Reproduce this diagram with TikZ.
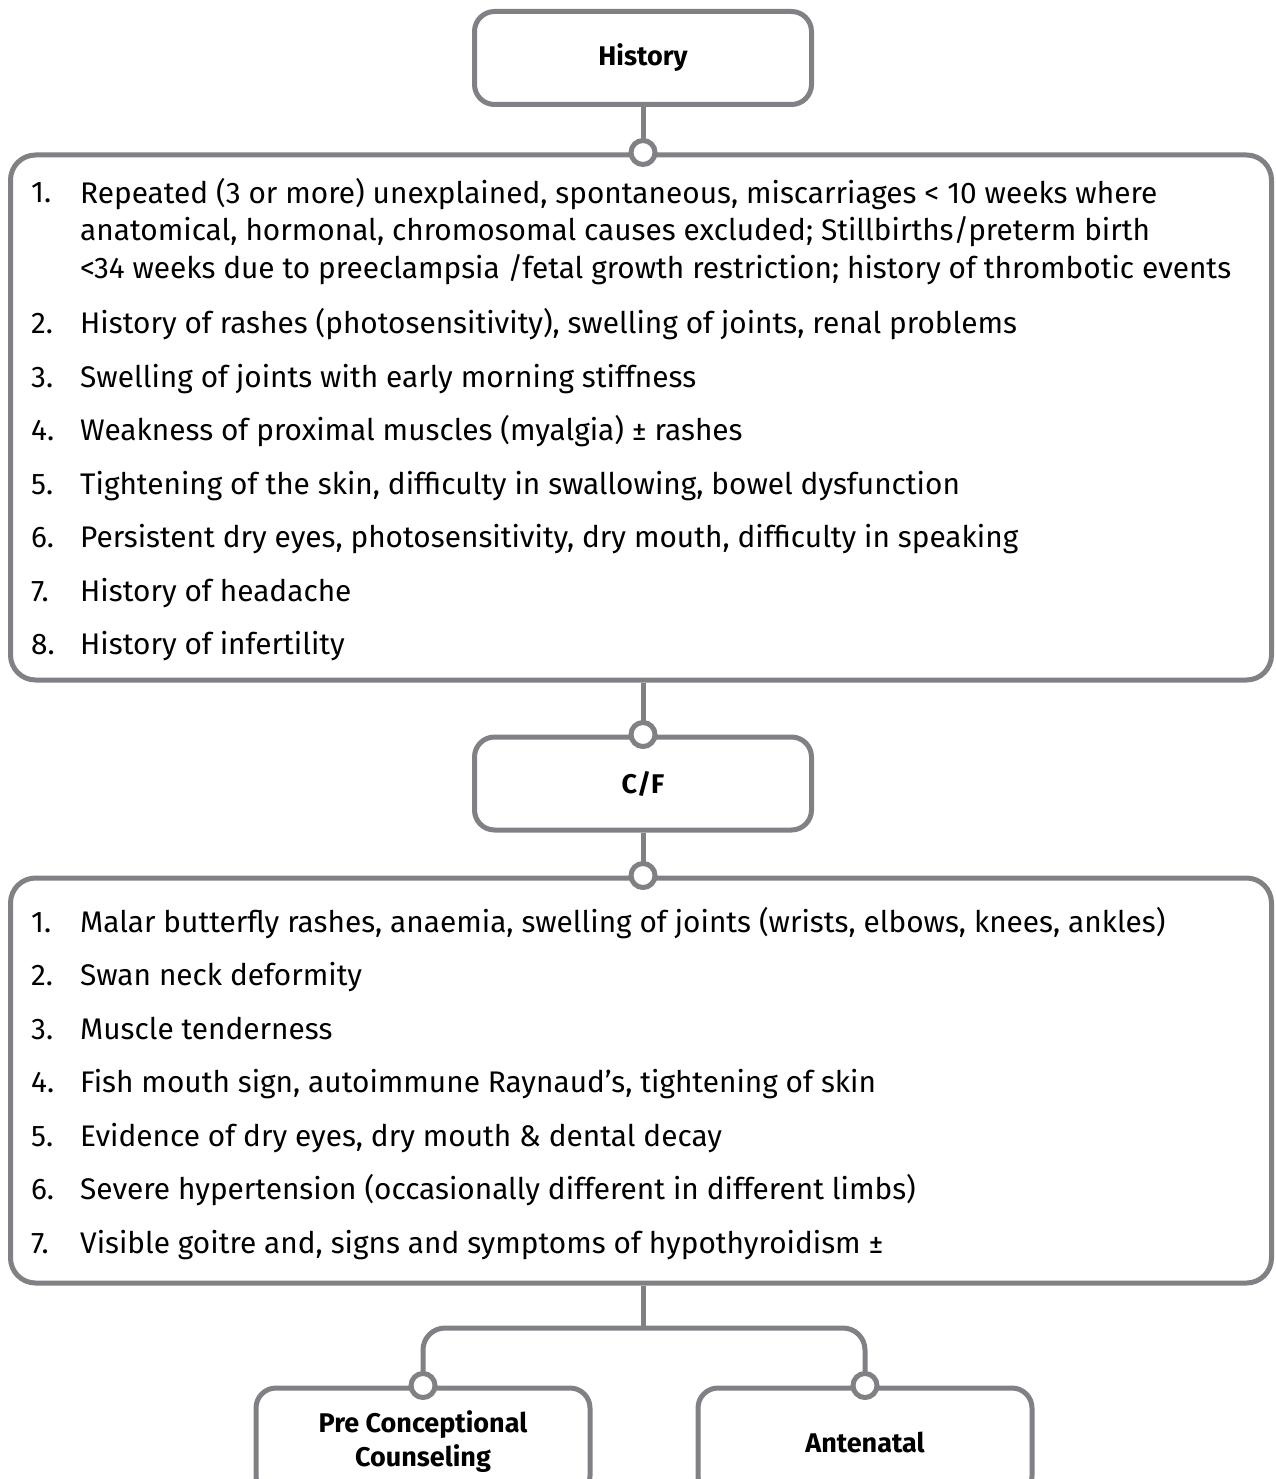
\documentclass[tikz,border=0pt]{standalone}
\usepackage{fontspec}
\setmainfont{Fira Sans}
\usetikzlibrary{positioning}

\definecolor{framegray}{RGB}{128,129,133}
\newcommand{\bodysize}{\fontsize{29.8pt}{37.5pt}\selectfont}
\newcommand{\headsize}{\fontsize{27pt}{34pt}\selectfont}

\tikzset{
	frame/.style={draw=framegray, line width=5pt, fill=white},
	titlebox/.style={frame, rounded corners=20pt, minimum width=337pt, minimum height=93pt,
		inner sep=0pt, align=center, font=\headsize\bfseries},
	listbox/.style={frame, rounded corners=25pt, minimum width=1261pt, inner sep=0pt},
	joint/.style={circle, draw=framegray, line width=5pt, fill=white, minimum size=24pt, inner sep=0pt},
	link/.style={draw=framegray, line width=5pt},
	num/.style={anchor=base west, inner sep=0pt},
	item/.style={anchor=base west, inner sep=0pt, align=left}
}

\begin{document}
\begin{tikzpicture}[x=1pt, y=-1pt, font=\bodysize]

	\useasboundingbox (0,0) rectangle (1275,1479);
	\clip (0,0) rectangle (1275,1479);

	% boxes
	\node [titlebox] (hist) at (643,58) {History};
	\node [listbox, minimum height=525pt] (hlist) at (641,417.5) {};
	\node [titlebox] (cf) at (643,783.5) {C/F};
	\node [listbox, minimum height=405pt] (clist) at (641,1080.5) {};
	\node [titlebox, minimum width=334pt, minimum height=108pt] (pcc) at (423,1442) {Pre Conceptional\\Counseling};
	\node [titlebox, minimum width=334pt, minimum height=108pt] (ant) at (865,1442) {Antenatal};

	% history items (base of a multi-line node is its last line)
	\node [num] (hn1) at (31,203) {1.};
	\node [item] (h1) at (80,278) {Repeated (3 or more) unexplained, spontaneous, miscarriages < 10 weeks where\\
		anatomical, hormonal, chromosomal causes excluded; Stillbirths/preterm birth\\
		<34 weeks due to preeclampsia /fetal growth restriction; history of thrombotic events};
	\node [num] (hn2) at (31,333) {2.};
	\node [item] (h2) at (80,333) {History of rashes (photosensitivity), swelling of joints, renal problems};
	\node [num] (hn3) at (31,387) {3.};
	\node [item] (h3) at (80,387) {Swelling of joints with early morning stiffness};
	\node [num] (hn4) at (31,440) {4.};
	\node [item] (h4) at (80,440) {Weakness of proximal muscles (myalgia) ± rashes};
	\node [num] (hn5) at (31,494) {5.};
	\node [item] (h5) at (80,494) {Tightening of the skin, difficulty in swallowing, bowel dysfunction};
	\node [num] (hn6) at (31,547) {6.};
	\node [item] (h6) at (80,547) {Persistent dry eyes, photosensitivity, dry mouth, difficulty in speaking};
	\node [num] (hn7) at (31,601) {7.};
	\node [item] (h7) at (80,601) {History of headache};
	\node [num] (hn8) at (31,654) {8.};
	\node [item] (h8) at (80,654) {History of infertility};

	% clinical features
	\node [num] (cn1) at (31,932) {1.};
	\node [item] (c1) at (80,932) {Malar butterfly rashes, anaemia, swelling of joints (wrists, elbows, knees, ankles)};
	\node [num] (cn2) at (31,985) {2.};
	\node [item] (c2) at (80,985) {Swan neck deformity};
	\node [num] (cn3) at (31,1039) {3.};
	\node [item] (c3) at (80,1039) {Muscle tenderness};
	\node [num] (cn4) at (31,1092) {4.};
	\node [item] (c4) at (80,1092) {Fish mouth sign, autoimmune Raynaud’s, tightening of skin};
	\node [num] (cn5) at (31,1146) {5.};
	\node [item] (c5) at (80,1146) {Evidence of dry eyes, dry mouth \& dental decay};
	\node [num] (cn6) at (31,1199) {6.};
	\node [item] (c6) at (80,1199) {Severe hypertension (occasionally different in different limbs)};
	\node [num] (cn7) at (31,1253) {7.};
	\node [item] (c7) at (80,1253) {Visible goitre and, signs and symptoms of hypothyroidism ±};

	% connectors
	\coordinate (fork) at (643,1328);
	\draw [link] (hist.south) -- (hist.south |- hlist.north);
	\draw [link] (cf.north |- hlist.south) -- (cf.north);
	\draw [link] (cf.south) -- (cf.south |- clist.north);
	\draw [link] (fork |- clist.south) -- (fork);
	\draw [link, rounded corners=22pt] (pcc.north) |- (fork) -| (ant.north);

	\node [joint] (j1) at (hist.south |- hlist.north) {};
	\node [joint] (j2) at (cf.north) {};
	\node [joint] (j3) at (cf.south |- clist.north) {};
	\node [joint] (j4) at (pcc.north) {};
	\node [joint] (j5) at (ant.north) {};

\end{tikzpicture}
\end{document}
